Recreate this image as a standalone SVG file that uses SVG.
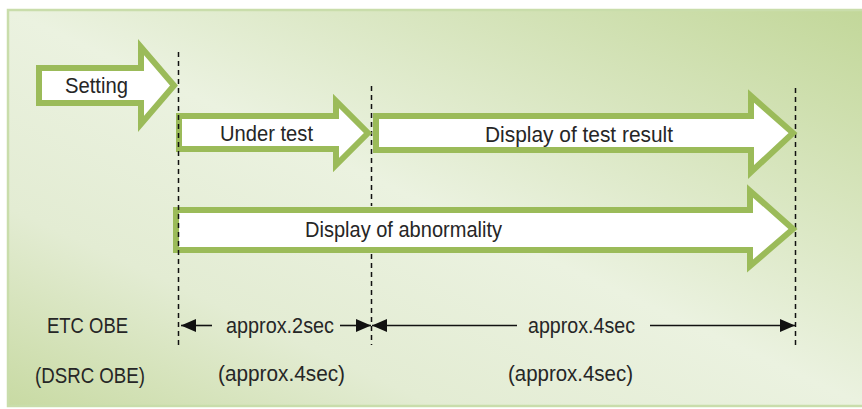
<svg xmlns="http://www.w3.org/2000/svg" width="862" height="409" viewBox="0 0 862 409">
<style>
.bg{stroke:#c9ddab;stroke-width:2.5}
.arrow{fill:#ffffff;stroke:#9bbb59;stroke-width:6;stroke-linejoin:miter;stroke-miterlimit:10}
.dash{stroke:#111;stroke-width:1.5;stroke-dasharray:5 4;fill:none}
.dim{stroke:#111;stroke-width:1.6;fill:none}
text{font-family:"Liberation Sans","Noto Sans CJK JP",sans-serif;font-size:22px;fill:#262626}
</style>
<defs>
<linearGradient id="bgGrad" x1="1" y1="0" x2="0" y2="1">
<stop offset="0" stop-color="#c2d799"/>
<stop offset="0.5" stop-color="#ebf2e0"/>
<stop offset="0.75" stop-color="#e3ecd3"/>
<stop offset="1" stop-color="#c8daa3"/>
</linearGradient>
<marker id="ah" markerUnits="userSpaceOnUse" markerWidth="16" markerHeight="14" refX="15" refY="7" orient="auto">
<path d="M0,0.5 L15,7 L0,13.5 Z" fill="#111"/>
</marker>
</defs>
<rect x="0" y="0" width="862" height="409" fill="#ffffff"/>
<rect class="bg" x="8" y="10" width="860" height="396" fill="url(#bgGrad)"/>

<g id="connectors">
<line class="dash" x1="371.5" y1="86" x2="371.5" y2="206"/>
<line class="dash" x1="371.5" y1="254" x2="371.5" y2="345"/>
<line class="dash" x1="795.5" y1="88" x2="795.5" y2="345"/>
<line class="dim" x1="212" y1="325.5" x2="181" y2="325.5" marker-end="url(#ah)"/>
<line class="dim" x1="340" y1="325.5" x2="371" y2="325.5" marker-end="url(#ah)"/>
<line class="dim" x1="517" y1="325.5" x2="372" y2="325.5" marker-end="url(#ah)"/>
<line class="dim" x1="650" y1="325.5" x2="795" y2="325.5" marker-end="url(#ah)"/>
</g>

<g id="setting">
<polygon class="arrow" points="39,68 141,68 141,47 174,85.5 141,124 141,103 39,103"/>
<text x="65" y="93" textLength="63" lengthAdjust="spacingAndGlyphs">Setting</text>
</g>
<g id="under-test">
<polygon class="arrow" points="179,116 336,116 336,101 368,133 336,165 336,149 179,149"/>
<text x="220" y="141" textLength="93" lengthAdjust="spacingAndGlyphs">Under test</text>
</g>
<g id="test-result">
<polygon class="arrow" points="376,116 751,116 751,96 793,133 751,172 751,150 376,150"/>
<text x="485" y="142" textLength="188" lengthAdjust="spacingAndGlyphs">Display of test result</text>
</g>
<g id="abnormality">
<polygon class="arrow" points="176,210 750,210 750,191 793,229 750,266 750,250 176,250"/>
<text x="305" y="237" textLength="197" lengthAdjust="spacingAndGlyphs">Display of abnormality</text>
</g>

<g id="guide-left">
<line class="dash" x1="178.5" y1="52" x2="178.5" y2="345"/>
</g>

<g id="labels">
<text x="47" y="333" textLength="81" lengthAdjust="spacingAndGlyphs">ETC OBE</text>
<text x="35" y="383" textLength="110" lengthAdjust="spacingAndGlyphs">(DSRC OBE)</text>
<text x="226" y="333" textLength="108" lengthAdjust="spacingAndGlyphs">approx.2sec</text>
<text x="528" y="333" textLength="107" lengthAdjust="spacingAndGlyphs">approx.4sec</text>
<text x="218" y="381" textLength="127" lengthAdjust="spacingAndGlyphs">(approx.4sec)</text>
<text x="508" y="381" textLength="125" lengthAdjust="spacingAndGlyphs">(approx.4sec)</text>
</g>
</svg>
